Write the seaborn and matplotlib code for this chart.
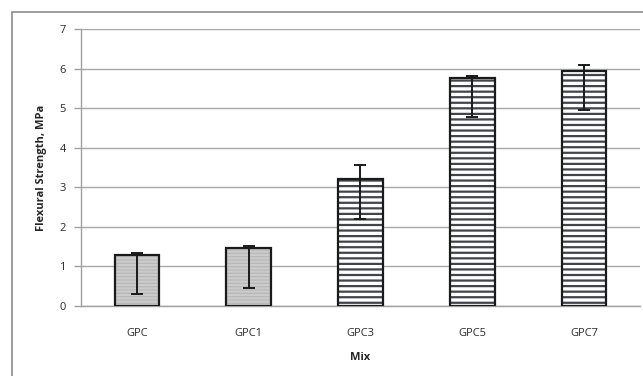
import matplotlib
matplotlib.use("Agg")
import matplotlib.pyplot as plt
import seaborn as sns
import pandas as pd
import numpy as np
from matplotlib.patches import Rectangle

# Flexural strength per mix, with lower/upper limits of the error range
mixes = ["GPC", "GPC1", "GPC3", "GPC5", "GPC7"]
strength = [1.30, 1.47, 3.20, 5.75, 5.95]
err_low = [0.30, 0.45, 2.20, 4.77, 4.95]
err_high = [1.35, 1.52, 3.57, 5.80, 6.10]
y_ticks = [0, 1, 2, 3, 4, 5, 6, 7]

df = pd.DataFrame({"Mix": mixes, "Strength": strength})

sns.set_theme(style="white")
plt.rcParams["font.family"] = ["Open Sans", "DejaVu Sans"]
plt.rcParams["hatch.linewidth"] = 1.6

fig = plt.figure(figsize=(6.43, 3.76), dpi=100)
ax = fig.add_axes([0.126, 0.1862, 0.8693, 0.7367])

sns.barplot(data=df, x="Mix", y="Strength", ax=ax, width=0.4,
            errorbar=None, color="white")

# hatch fills: grey with light lines for the first two mixes, white with dark lines for the rest
styles = [("#b6b6b6", "#cbcbcb", "-----"), ("#b6b6b6", "#cbcbcb", "-----"),
          ("white", "#41444d", "---"), ("white", "#41444d", "---"),
          ("white", "#41444d", "---")]
for patch, (fc, hc, h) in zip(ax.patches, styles):
    patch.set_facecolor(fc)
    patch.set_edgecolor(hc)
    patch.set_hatch(h)
    patch.set_linewidth(0)
    outline = Rectangle(patch.get_xy(), patch.get_width(), patch.get_height(),
                        fill=False, edgecolor="#1a1a1a", linewidth=1.6, zorder=3)
    ax.add_patch(outline)

x = np.arange(len(mixes))
yerr = [np.array(strength) - np.array(err_low), np.array(err_high) - np.array(strength)]
ax.errorbar(x, strength, yerr=yerr, fmt="none", ecolor="#1a1a1a",
            elinewidth=1.4, capsize=4, capthick=1.4, zorder=4)

ax.set_ylim(0, 7)
ax.set_xlim(-0.5, len(mixes) - 0.5)
ax.set_yticks(y_ticks)
ax.set_yticklabels([str(t) for t in y_ticks], fontsize=8, color="#2a2a2a")
ax.set_xticks(x)
ax.set_xticklabels(mixes, fontsize=8, color="#2a2a2a")
ax.set_xticks(np.arange(len(mixes) + 1) - 0.5, minor=True)
ax.tick_params(axis="x", which="major", length=0, pad=16)
ax.tick_params(axis="x", which="minor", length=5, color="#a0a0a0", width=1, direction="out")
ax.tick_params(axis="y", length=5, color="#a0a0a0", width=1, direction="out", pad=6, left=True)

ax.yaxis.grid(True, color="#a8a8a8", linewidth=1)
ax.set_axisbelow(True)
for side in ["top", "right"]:
    ax.spines[side].set_visible(False)
for side in ["left", "bottom"]:
    ax.spines[side].set_color("#a0a0a0")
    ax.spines[side].set_linewidth(1)

ax.set_xlabel("Mix", fontsize=8, fontweight="bold", labelpad=9)
ax.set_ylabel("Flexural Strength, MPa", fontsize=8, fontweight="bold", labelpad=9)

# chart area border
fig.patches.append(Rectangle((12 / 643, -0.1), 1.2, 1 - 12 / 376 + 0.1,
                             transform=fig.transFigure, fill=False,
                             edgecolor="#8c8c8c", linewidth=1.2))

fig.savefig("out.png", dpi=100)
